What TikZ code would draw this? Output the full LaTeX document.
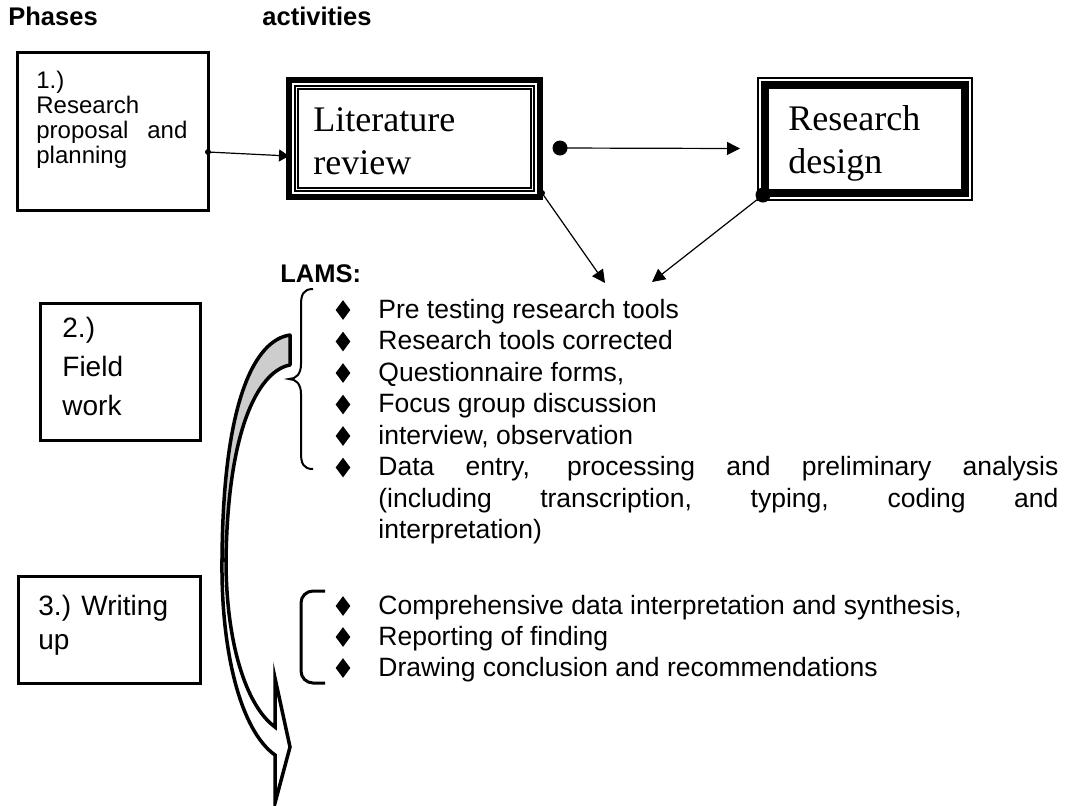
\documentclass[tikz,border=0pt]{standalone}
\usepackage{fontspec}
\setmainfont{Liberation Sans}
\newfontfamily\boxserif{Liberation Serif}
\usetikzlibrary{positioning, arrows.meta, shapes.geometric, calc}

\definecolor{ribbon}{HTML}{CDCDCD}

\tikzset{
  phase/.style={draw, line width=1.5pt, rectangle, inner sep=0pt, outer sep=0pt, anchor=north west},
  phasetext/.style={anchor=north west, inner sep=0pt, align=left},
  bigtext/.style={anchor=north west, inner sep=0pt, align=left, font=\boxserif\fontsize{18}{21.5}\selectfont},
  head/.style={anchor=base west, inner sep=0pt, font=\fontsize{12.75}{15}\selectfont\bfseries},
  item/.style={anchor=base west, inner sep=0pt, font=\fontsize{13.25}{15.75}\selectfont},
  bul/.style={diamond, fill, inner sep=0pt, minimum width=7.5pt, minimum height=10pt},
  link/.style={line width=0.6pt, -{Triangle[length=6.5pt, width=6.5pt]}},
}

\begin{document}
\begin{tikzpicture}[x=0.5pt, y=-0.5pt]
\useasboundingbox (0,0) rectangle (1074,805);

% column heads
\node[head] (phases) at (8,25) {Phases};
\node[head] (activities) at (262,25) {activities};

% phase 1
\node[phase, minimum width=95.5pt, minimum height=79pt] (box1) at (17,52) {};
\node[phasetext, text width=75.5pt, font=\fontsize{12}{12.5}\selectfont] (box1txt) at (36,71)
      {1.)\\Research\\\makebox[75.5pt]{proposal\hfill and}\\planning};

% literature review, thick-thin frame
\node[draw, line width=3pt, outer sep=0pt, inner sep=0pt, anchor=north west,
      minimum width=125.5pt, minimum height=58.5pt] (lit) at (289,80) {};
\draw[line width=0.6pt] ($(lit.north west)+(6,6)$) rectangle ($(lit.south east)+(-6,-6)$);
\draw[line width=0.6pt] ($(lit.north west)+(9,9)$) rectangle ($(lit.south east)+(-9,-9)$);
\node[bigtext] (littxt) at (313,107) {Literature\\review};

% research design, thin-thick frame
\node[draw, line width=4pt, outer sep=0pt, inner sep=0pt, anchor=north west,
      minimum width=100pt, minimum height=54pt] (design) at (765,85) {};
\draw[line width=0.6pt] ($(design.north west)+(-7,-7)$) rectangle ($(design.south east)+(7,7)$);
\node[bigtext] (designtxt) at (788,105) {Research\\design};

% links between the boxes
\coordinate (litfoot) at ($(lit.south east)+(2,-4)$);
\coordinate (designfoot) at ($(design.south west)+(-2,2)$);
\coordinate (tipA) at (605,283);
\coordinate (tipB) at (652,282);
\coordinate (litout) at ($(lit.east)+(20,9.5)$);
\coordinate (designin) at ($(design.west)+(-25,9.5)$);
\coordinate (box1out) at ([yshift=-10.5pt]box1.east);
\coordinate (litin) at ([yshift=-8.75pt]lit.west);

\draw[line width=0.6pt, -{Triangle[length=5pt, width=6pt]}] (box1out) -- (litin);
\fill (box1out) circle[radius=1.5pt];
\draw[link] (litout) -- (designin);
\fill (litout) circle[radius=3.75pt];
\draw[link] (litfoot) -- (tipA);
\fill (litfoot) circle[radius=1.5pt];
\draw[link] (designfoot) -- (tipB);
\fill (designfoot) circle[radius=3.75pt];

% LAMS activities
\node[head] (lams) at (280,282) {LAMS:};
\draw[line width=1pt] (313,289) .. controls (303,289) and (301,295) .. (301,305) -- (301,364)
  .. controls (301,374) and (296,379) .. (289,379) .. controls (296,379) and (301,384) .. (301,394)
  -- (301,453) .. controls (301,463) and (303,469) .. (313,469);
\foreach \txt [count=\i] in {Pre testing research tools, Research tools corrected,
    {Questionnaire forms,}, Focus group discussion, {interview, observation}}{
  \node[bul] (bul\i) at (343,{278.5+31.5*\i}) {};
  \node[item] (item\i) at (378,{286.5+31.5*\i}) {\txt};
}
\node[bul] (bul6) at (343,467.5) {};
\node[item] (item6) at (378,475.5) {\makebox[340pt][s]{Data entry, processing and preliminary analysis}};
\node[item] (item6b) at (378,507) {\makebox[340pt][s]{(including transcription, typing, coding and}};
\node[item] (item6c) at (378,538.5) {interpretation)};

% phase 2
\node[phase, minimum width=80pt, minimum height=68.5pt] (box2) at (40,303) {};
\node[phasetext, font=\fontsize{14}{19.5}\selectfont] (box2txt) at (62,317) {2.)\\Field\\work};

% phase 3
\node[phase, minimum width=91pt, minimum height=53.5pt] (box3) at (18,576) {};
\node[phasetext, font=\fontsize{14}{17}\selectfont] (box3txt) at (38,595) {3.) Writing\\up};

\draw[line width=1.5pt, rounded corners=6pt] (325,591) -- (301,591) -- (301,683) -- (325,683);
\foreach \txt [count=\i] in {{Comprehensive data interpretation and synthesis,},
    Reporting of finding, Drawing conclusion and recommendations}{
  \node[bul] (wbul\i) at (343,{575+31*\i}) {};
  \node[item] (witem\i) at (378,{583+31*\i}) {\txt};
}

% curved arrow down the phases
\filldraw[line width=1.75pt, fill=ribbon, line join=round] (290,335)
  .. controls (255,340) and (223,400) .. (222,560) -- (226,560)
  .. controls (228,420) and (262,370) .. (290,365) -- cycle;
\filldraw[line width=1.75pt, fill=white] (222,560)
  .. controls (221,650) and (240,730) .. (275,755) -- (275,803) -- (290,747) -- (275,678) -- (275,727)
  .. controls (245,705) and (226,640) .. (226,560) -- cycle;
\end{tikzpicture}
\end{document}
